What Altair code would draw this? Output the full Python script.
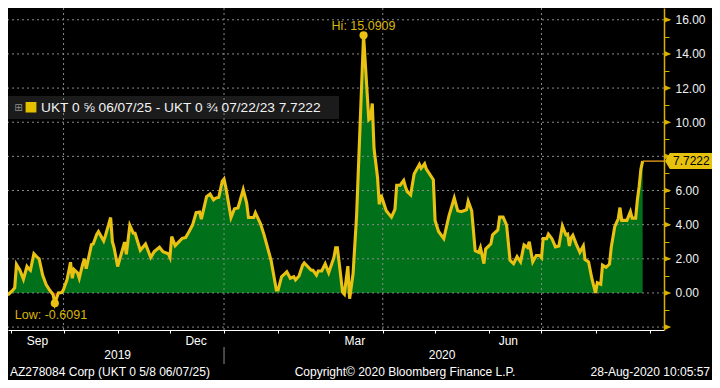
import altair as alt
import pandas as pd

# ---------------- data ----------------
dates = [
    "2019-08-30", "2019-09-02", "2019-09-03", "2019-09-04", "2019-09-06", "2019-09-08",
    "2019-09-10", "2019-09-11", "2019-09-12", "2019-09-14", "2019-09-16", "2019-09-17",
    "2019-09-19", "2019-09-21", "2019-09-23", "2019-09-25", "2019-09-26", "2019-09-28",
    "2019-09-30", "2019-10-01", "2019-10-02", "2019-10-03", "2019-10-05", "2019-10-06",
    "2019-10-07", "2019-10-09", "2019-10-10", "2019-10-12", "2019-10-13", "2019-10-14",
    "2019-10-17", "2019-10-18", "2019-10-20", "2019-10-21", "2019-10-24", "2019-10-25",
    "2019-10-28", "2019-10-29", "2019-10-30", "2019-11-01", "2019-11-02", "2019-11-05",
    "2019-11-06", "2019-11-08", "2019-11-10", "2019-11-11", "2019-11-14", "2019-11-17",
    "2019-11-20", "2019-11-22", "2019-11-25", "2019-11-27", "2019-11-30", "2019-12-01",
    "2019-12-02", "2019-12-04", "2019-12-08", "2019-12-10", "2019-12-12", "2019-12-14",
    "2019-12-16", "2019-12-18", "2019-12-19", "2019-12-22", "2019-12-24", "2019-12-26",
    "2019-12-27", "2019-12-29", "2019-12-31", "2020-01-01", "2020-01-02", "2020-01-05",
    "2020-01-07", "2020-01-09", "2020-01-12", "2020-01-14", "2020-01-15", "2020-01-18",
    "2020-01-19", "2020-01-22", "2020-01-24", "2020-01-28", "2020-01-31", "2020-02-01",
    "2020-02-03", "2020-02-06", "2020-02-08", "2020-02-10", "2020-02-11", "2020-02-13",
    "2020-02-15", "2020-02-16", "2020-02-20", "2020-02-21", "2020-02-23", "2020-02-24",
    "2020-02-26", "2020-02-28", "2020-03-01", "2020-03-04", "2020-03-05", "2020-03-06",
    "2020-03-09", "2020-03-10", "2020-03-12", "2020-03-13", "2020-03-15", "2020-03-17",
    "2020-03-18", "2020-03-21", "2020-03-23", "2020-03-24", "2020-03-25", "2020-03-26",
    "2020-03-27", "2020-03-29", "2020-03-30", "2020-03-31", "2020-04-03", "2020-04-06",
    "2020-04-08", "2020-04-09", "2020-04-11", "2020-04-13", "2020-04-14", "2020-04-15",
    "2020-04-17", "2020-04-19", "2020-04-22", "2020-04-23", "2020-04-25", "2020-04-26",
    "2020-04-30", "2020-05-01", "2020-05-03", "2020-05-06", "2020-05-09", "2020-05-12",
    "2020-05-14", "2020-05-16", "2020-05-19", "2020-05-20", "2020-05-22", "2020-05-24",
    "2020-05-26", "2020-05-27", "2020-05-29", "2020-05-30", "2020-06-02", "2020-06-03",
    "2020-06-06", "2020-06-07", "2020-06-09", "2020-06-11", "2020-06-13", "2020-06-15",
    "2020-06-17", "2020-06-19", "2020-06-21", "2020-06-23", "2020-06-24", "2020-06-26",
    "2020-06-28", "2020-06-30", "2020-07-01", "2020-07-02", "2020-07-04", "2020-07-05",
    "2020-07-07", "2020-07-09", "2020-07-11", "2020-07-13", "2020-07-15", "2020-07-16",
    "2020-07-17", "2020-07-18", "2020-07-19", "2020-07-21", "2020-07-23", "2020-07-25",
    "2020-07-26", "2020-07-28", "2020-07-30", "2020-08-01", "2020-08-02", "2020-08-04",
    "2020-08-05", "2020-08-07", "2020-08-09", "2020-08-10", "2020-08-12", "2020-08-14",
    "2020-08-15", "2020-08-16", "2020-08-19", "2020-08-21", "2020-08-22", "2020-08-24",
    "2020-08-25", "2020-08-26", "2020-08-27", "2020-08-28",
]
values = [
    -0.12, 0.17, 0.30, 1.67, 1.33, 0.80,
    1.55, 1.42, 1.33, 2.30, 2.08, 2.00,
    1.05, 0.49, 0.17, -0.10, -0.6091, 0.00,
    0.02, 0.20, 0.50, 0.77, 1.80, 0.86,
    1.37, 1.18, 0.86, 1.70, 2.00, 1.42,
    2.83, 2.87, 3.43, 3.60, 3.05, 3.35,
    4.42, 3.00, 2.64, 1.55, 1.90, 2.98,
    2.27, 3.95, 3.50, 3.50, 2.50, 2.87,
    2.08, 2.42, 2.68, 2.42, 2.30, 2.08,
    3.30, 2.77, 3.20, 3.24, 3.60, 3.99,
    4.70, 4.74, 4.33, 5.64, 5.79, 5.45,
    5.54, 5.60, 6.54, 6.67, 6.20, 4.42,
    4.93, 4.98, 6.05, 5.26, 4.42, 4.42,
    4.70, 4.04, 3.39, 1.89, 0.17, 0.17,
    0.95, 1.24, 0.86, 0.95, 0.77, 0.99,
    1.61, 1.76, 1.33, 1.33, 1.05, 1.29,
    1.29, 1.70, 1.18, 2.08, 2.64, 2.64,
    0.04, -0.07, 1.57, -0.34, 1.14, 4.50,
    7.15, 15.0909, 11.80, 10.15, 10.24, 11.10,
    8.46, 6.78, 5.19, 5.75, 4.81, 4.44,
    4.90, 6.31, 6.31, 6.59, 6.22, 5.94,
    5.75, 6.97, 7.53, 7.30, 7.57, 7.25,
    6.63, 4.25, 3.60, 3.18, 4.53, 5.56,
    4.81, 4.76, 4.87, 5.37, 4.81, 2.47,
    2.38, 2.66, 1.72, 2.57, 2.88, 3.41,
    3.69, 4.44, 4.44, 3.97, 1.91, 1.72,
    2.13, 1.82, 2.81, 2.66, 3.00, 1.82,
    2.19, 2.19, 2.06, 3.18, 3.18, 3.45,
    3.18, 2.70, 2.75, 3.93, 3.41, 3.45,
    2.75, 3.22, 3.37, 2.85, 2.38, 2.75,
    1.95, 1.82, 0.79, 0.00, 0.60, 0.51,
    1.63, 1.50, 1.69, 2.66, 3.88, 4.34,
    5.00, 4.25, 4.25, 4.76, 4.38, 4.38,
    5.47, 6.22, 7.25, 7.7222,
]

y_ticks = [-2, -1, 0, 1, 2, 3, 4, 5, 6, 7, 8, 9, 10, 11, 12, 13, 14, 15, 16]
grid_values = [-2, 0, 2, 4, 6, 8, 10, 12, 14, 16]
quarter_starts = ["2019-10-01", "2020-01-01", "2020-04-01", "2020-07-01"]
month_starts = ["2019-09-01", "2019-10-01", "2019-11-01", "2019-12-01", "2020-01-01",
                "2020-02-01", "2020-03-01", "2020-04-01", "2020-05-01", "2020-06-01",
                "2020-07-01", "2020-08-01", "2020-09-01"]
month_label_dates = ["2019-09-16", "2019-12-16", "2020-03-16", "2020-06-12"]
month_labels = ["Sep", "Dec", "Mar", "Jun"]
year_label_dates = ["2019-11-01", "2020-05-05"]
year_labels = ["2019", "2020"]
year_break = ["2020-01-01"]

hi_date, hi_value = "2020-03-21", 15.0909
low_date, low_value = "2019-09-26", -0.6091
last_date, last_value = "2020-08-28", 7.7222

legend_text = "UKT 0 \u215d 06/07/25 - UKT 0 \u00be 07/22/23 7.7222"
footer_left = "AZ278084 Corp (UKT 0 5/8 06/07/25)"
footer_center = "Copyright\u00a9 2020 Bloomberg Finance L.P."
footer_right = "28-Aug-2020 10:05:57"

# ---------------- style ----------------
FONT = "Liberation Sans"
GREEN = "#00701b"
RED = "#8a1515"
LINE_YEL = "#e8c112"
AXIS_YEL = "#d9b000"
TEXT_YEL = "#d8b60c"
GRID = "#8a8a8a"
W, H = 656, 322

def dt(s, **kw):
    return alt.DateTime(year=int(s[:4]), month=int(s[5:7]), date=int(s[8:10]), utc=True, **kw)

xscale = alt.Scale(type="utc", domain=[
    alt.DateTime(year=2019, month=8, date=30, hours=3, minutes=36, utc=True),
    alt.DateTime(year=2020, month=9, date=9, hours=6, utc=True)])
yscale = alt.Scale(domain=[-2.17, 16.69], nice=False, zero=False)

xaxis = alt.Axis(values=[dt(s) for s in month_starts], labels=False, ticks=True,
                 tickSize=3, tickColor="#ffffff", domainColor="#ffffff", domainWidth=1,
                 grid=False, title=None)
yaxis = alt.Axis(orient="right", values=y_ticks,
                 labelExpr="datum.value % 2 === 0 && datum.value !== 8 && datum.value > -1 ? format(datum.value, '.2f') : ''",
                 tickSize=5, tickColor=AXIS_YEL, tickWidth=1, domainColor=AXIS_YEL, domainWidth=1.5,
                 grid=False, labelColor="#f0f0f0", labelFont=FONT, labelFontSize=12,
                 labelPadding=6, labelOverlap=False, labelFlush=False, labelBaseline="middle",
                 title=None)

def X(field):
    return alt.X(field, type="temporal", scale=xscale, axis=xaxis, title=None)

def Y(field):
    return alt.Y(field, type="quantitative", scale=yscale, axis=yaxis, title=None)

df = pd.DataFrame({"date": dates, "value": values})
one = pd.DataFrame({"k": [0]})

def label(text, x, y, align="left", color="#ffffff", size=12, font=FONT):
    return alt.Chart(pd.DataFrame({"t": [text]})).mark_text(
        align=align, baseline="middle", color=color, fontSize=size, font=font
    ).encode(x=alt.value(x), y=alt.value(y), text="t:N")

area_pos = alt.Chart(df).transform_calculate(
    pos="max(datum.value, 0)", zero="0"
).mark_area(color=GREEN, opacity=1).encode(x=X("date"), y=Y("pos"), y2=alt.Y2("zero:Q"))

area_neg = alt.Chart(df).transform_calculate(
    neg="min(datum.value, 0)", zero="0"
).mark_area(color=RED, opacity=1).encode(x=X("date"), y=Y("neg"), y2=alt.Y2("zero:Q"))

legend_bg = alt.Chart(one).mark_rect(color="#1d1d1d", opacity=0.92).encode(
    x=alt.value(0), x2=alt.value(331), y=alt.value(88), y2=alt.value(111))

hgrid = alt.Chart(pd.DataFrame({"g": grid_values})).mark_rule(
    color=GRID, strokeDash=[2, 3], strokeWidth=1).encode(y=Y("g"))

vgrid = alt.Chart(pd.DataFrame({"d": quarter_starts})).mark_rule(
    color=GRID, strokeDash=[2, 3], strokeWidth=1).encode(x=X("d"))

line = alt.Chart(df).mark_line(color=LINE_YEL, strokeWidth=3.1).encode(x=X("date"), y=Y("value"))

last_df = pd.DataFrame({"date": [last_date], "value": [last_value], "t": ["7.7222"]})
last_rule = alt.Chart(last_df).mark_rule(color="#f0a020", strokeWidth=1.3).encode(
    x=X("date"), x2=alt.value(W), y=Y("value"))

hl_df = pd.DataFrame({"date": [hi_date, low_date], "value": [hi_value, low_value],
                      "t": ["Hi: 15.0909", "Low: -0.6091"]})
hl_pts = alt.Chart(hl_df).mark_point(filled=True, size=66, color=LINE_YEL, opacity=1).encode(
    x=X("date"), y=Y("value"))
hi_txt = alt.Chart(hl_df.iloc[[0]]).mark_text(
    color=TEXT_YEL, fontSize=12.5, font=FONT, dy=-9.5, baseline="middle").encode(
    x=X("date"), y=Y("value"), text="t:N")
low_txt = alt.Chart(hl_df.iloc[[1]]).mark_text(
    color=TEXT_YEL, fontSize=12.5, font=FONT, dx=-40, dy=11.5, align="left", baseline="middle").encode(
    x=X("date"), y=Y("value"), text="t:N")

arrows = alt.Chart(pd.DataFrame({"g": grid_values})).mark_point(
    shape="M 0 -0.42 L 1 0 L 0 0.42 Z", filled=True, size=180, color=AXIS_YEL, opacity=1,
    strokeWidth=0).encode(x=alt.value(W + 0.5), y=Y("g"))

tag = alt.Chart(last_df).mark_point(
    shape="M 0 0 L 0.6 -1 L 5.9 -1 L 5.9 1 L 0.6 1 Z", filled=True, size=256,
    color="#e6c20f", opacity=1, strokeWidth=0).encode(x=alt.value(W + 1), y=Y("value"))
tag_txt = alt.Chart(last_df).mark_text(
    color="#000000", fontSize=12, font=FONT, align="left", baseline="middle").encode(
    x=alt.value(W + 9), y=Y("value"), text="t:N")

legend_icon = label("\u229e", 10.5, 99.5, align="center", color="#8c8c8c", size=10, font="DejaVu Sans")
legend_sq = alt.Chart(one).mark_rect(color="#e3bf00").encode(
    x=alt.value(17.6), x2=alt.value(28.4), y=alt.value(94), y2=alt.value(104.5))
legend_txt = label(legend_text, 33, 99.5, color="#f2f2f2", size=13.7)

mdf = pd.DataFrame({"d": month_label_dates, "t": month_labels})
month_txt = alt.Chart(mdf).mark_text(color="#ffffff", fontSize=12, font=FONT, baseline="middle").encode(
    x=X("d"), y=alt.value(H + 11), text="t:N")
ydf = pd.DataFrame({"d": year_label_dates, "t": year_labels})
year_txt = alt.Chart(ydf).mark_text(color="#ffffff", fontSize=12, font=FONT, baseline="middle").encode(
    x=X("d"), y=alt.value(H + 25), text="t:N")
year_div = alt.Chart(pd.DataFrame({"d": year_break})).mark_rule(color="#8c8c8c", strokeWidth=1).encode(
    x=X("d"), y=alt.value(H + 17), y2=alt.value(H + 34))

f_left = label(footer_left, 2, H + 42)
f_center = label(footer_center, 397, H + 42, align="center")
f_right = label(footer_right, 702, H + 42, align="right")

chart = alt.layer(
    area_pos, area_neg, legend_bg, hgrid, vgrid, line, last_rule,
    hl_pts, hi_txt, low_txt, arrows, tag, tag_txt,
    legend_icon, legend_sq, legend_txt,
    month_txt, year_txt, year_div, f_left, f_center, f_right,
).properties(
    width=W, height=H, autosize="none",
    padding={"left": 0, "top": 0, "right": 48, "bottom": 50},
    background="#000000",
).configure_view(stroke=None)

chart.save("out.html", embed_options={"renderer": "svg", "actions": False})
